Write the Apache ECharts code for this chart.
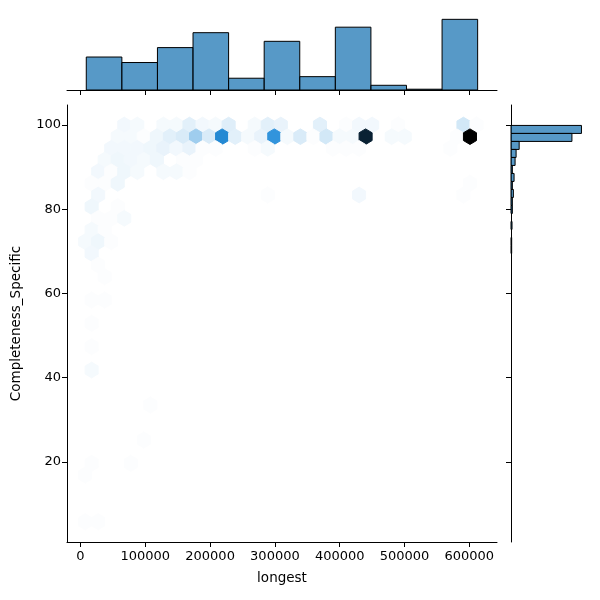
<!DOCTYPE html>
<html>
<head>
<meta charset="utf-8">
<style>html,body{margin:0;padding:0;background:#fff}#chart{width:600px;height:600px}</style>
<script src="https://cdn.jsdelivr.net/npm/echarts@6/dist/echarts.min.js"></script>
</head>
<body>
<div id="chart"></div>
<script>
// Axis ticks
const longestTicks = [0, 100000, 200000, 300000, 400000, 500000, 600000];
const completenessTicks = [20, 40, 60, 80, 100];

// Marginal histogram of "longest"
const longestBinStart = 8950;
const longestBinWidth = 54900;
const longestHist = [42, 35, 54, 73, 15, 62, 17, 80, 6, 1, 90];

// Marginal histogram of "Completeness_Specific", first bin is the highest
const completenessBinTop = 99.9;
const completenessBinWidth = 1.9;
const completenessHist = [207, 179, 24, 15, 12, 4, 9, 4, 7, 4, 4, 0, 3, 0, 2, 2];

// Hexagon lattice: half-column and row spacing in data units
const hexOriginX = -2900;
const hexHalfStepX = 10065;
const hexTopY = 100;
const hexStepY = 2.77;

// Hexbin cells, grouped by lattice row
const hexRow = [
  0,0,0,0,0,0,0,0,0,0,0,0,0,0,0,0,0,0,
  1,1,1,1,1,1,1,1,1,1,1,1,1,1,1,1,1,1,1,1,1,1,1,1,
  2,2,2,2,2,2,2,2,2,2,2,2,2,2,2,
  3,3,3,3,3,3,3,
  4,4,4,4,4,4,4,
  5,5,5,5,
  6,6,6,6,
  7,7,
  8,8,8,
  9,9,
  10,10,10,
  11,12,13,15,15,17,19,21,24,27,29,29,30,34,34
];
const hexCol = [
  7,9,13,15,17,19,21,23,27,29,31,37,41,43,45,49,59,61,
  6,8,10,12,14,16,18,20,22,24,26,28,30,32,34,36,38,40,42,44,48,50,58,60,
  5,7,9,11,13,15,17,19,21,27,29,39,41,43,57,
  4,6,8,10,12,16,18,
  3,5,7,9,13,15,17,
  2,4,6,60,
  3,29,43,59,
  2,6,
  3,5,7,
  2,4,
  1,3,5,
  2,3,4,2,4,2,2,2,11,10,2,8,1,1,3
];
const hexCount = [
  4,3,3,3,9,4,3,10,3,9,7,9,1,4,4,1,14,1,
  3,3,1,5,9,12,30,12,70,9,3,7,64,3,12,1,14,3,3,120,3,3,1,136,
  4,4,4,5,7,4,7,1,1,1,3,1,1,1,1,
  3,5,4,3,5,1,1,
  4,1,5,3,3,3,1,
  1,1,5,1,
  4,1,4,1,
  5,1,
  1,1,3,
  3,1,
  3,5,1,
  4,1,1,1,1,1,1,3,1,1,1,1,1,1,1
];
const hexCountMax = 136;

const tickStyle = { show: true, length: 5, inside: false, lineStyle: { color: '#000', width: 1 } };
const lineStyle = { show: true, onZero: false, lineStyle: { color: '#000', width: 1 } };
const tickTextStyle = { color: '#000', fontFamily: 'DejaVu Sans', fontSize: 13 };
const nameTextStyle = { color: '#000', fontFamily: 'DejaVu Sans', fontSize: 13.5 };

// Pointy-top hexagon built from its data-space centre
function renderHex(params, api) {
  const cx = api.value(0), cy = api.value(1), t = api.value(2) / hexCountMax;
  const dx = hexHalfStepX, dy = hexStepY * 2 / 3;
  const pts = [[cx, cy + dy], [cx + dx, cy + dy / 2], [cx + dx, cy - dy / 2],
               [cx, cy - dy], [cx - dx, cy - dy / 2], [cx - dx, cy + dy / 2]].map(p => api.coord(p));
  const color = `hsl(205.4,70.6%,${(100 * (1 - t)).toFixed(1)}%)`;
  return { type: 'polygon', shape: { points: pts }, style: { fill: color, stroke: color, lineWidth: 1 } };
}

// One histogram rectangle between two value-axis corners
function renderBar(params, api) {
  const a = api.coord([api.value(0), api.value(1)]);
  const b = api.coord([api.value(2), api.value(3)]);
  return {
    type: 'rect',
    shape: { x: Math.min(a[0], b[0]), y: Math.min(a[1], b[1]), width: Math.abs(a[0] - b[0]), height: Math.abs(a[1] - b[1]) },
    style: { fill: 'rgba(31,119,180,0.75)', stroke: '#000', lineWidth: 1 }
  };
}

const hexData = hexCount.map((c, i) => [hexOriginX + hexCol[i] * hexHalfStepX, hexTopY - hexRow[i] * hexStepY, c]);
const topBars = longestHist.map((c, i) => [longestBinStart + i * longestBinWidth, 0, longestBinStart + (i + 1) * longestBinWidth, c]);
const rightBars = completenessHist.map((c, i) => [0, completenessBinTop - i * completenessBinWidth, c, completenessBinTop - (i + 1) * completenessBinWidth])
  .filter(b => b[2] > 0);

const xRange = { min: -20800, max: 642700 };
const yRange = { min: 1, max: 104.75 };

echarts.init(document.getElementById('chart'), null, { renderer: 'canvas' }).setOption({
  animation: false,
  backgroundColor: '#fff',
  grid: [
    { left: 67, top: 105, width: 430, height: 437 },
    { left: 67, top: 15.8, width: 430, height: 74.2 },
    { left: 511, top: 105, width: 74, height: 437 }
  ],
  xAxis: [
    { type: 'value', gridIndex: 0, ...xRange, name: 'longest', nameLocation: 'middle', nameGap: 29,
      nameTextStyle, axisLine: lineStyle, splitLine: { show: false },
      axisTick: { ...tickStyle, customValues: longestTicks },
      axisLabel: { ...tickTextStyle, margin: 8, customValues: longestTicks, formatter: v => String(v) } },
    { type: 'value', gridIndex: 1, ...xRange, axisLine: lineStyle, splitLine: { show: false },
      axisTick: { ...tickStyle, customValues: longestTicks }, axisLabel: { show: false } },
    { type: 'value', gridIndex: 2, min: 0, max: 217.4, show: false, splitLine: { show: false } }
  ],
  yAxis: [
    { type: 'value', gridIndex: 0, ...yRange, name: 'Completeness_Specific', nameLocation: 'middle', nameGap: 43.5,
      nameTextStyle, axisLine: lineStyle, splitLine: { show: false },
      axisTick: { ...tickStyle, customValues: completenessTicks },
      axisLabel: { ...tickTextStyle, margin: 6, customValues: completenessTicks, formatter: v => String(v) } },
    { type: 'value', gridIndex: 1, min: 0, max: 94.5, show: false, splitLine: { show: false } },
    { type: 'value', gridIndex: 2, ...yRange, axisLine: lineStyle, splitLine: { show: false },
      axisTick: { ...tickStyle, customValues: completenessTicks }, axisLabel: { show: false } }
  ],
  series: [
    { type: 'custom', xAxisIndex: 0, yAxisIndex: 0, data: hexData, renderItem: renderHex, clip: true, silent: true },
    { type: 'custom', xAxisIndex: 1, yAxisIndex: 1, data: topBars, renderItem: renderBar, silent: true },
    { type: 'custom', xAxisIndex: 2, yAxisIndex: 2, data: rightBars, renderItem: renderBar, silent: true }
  ]
});
</script>
</body>
</html>
